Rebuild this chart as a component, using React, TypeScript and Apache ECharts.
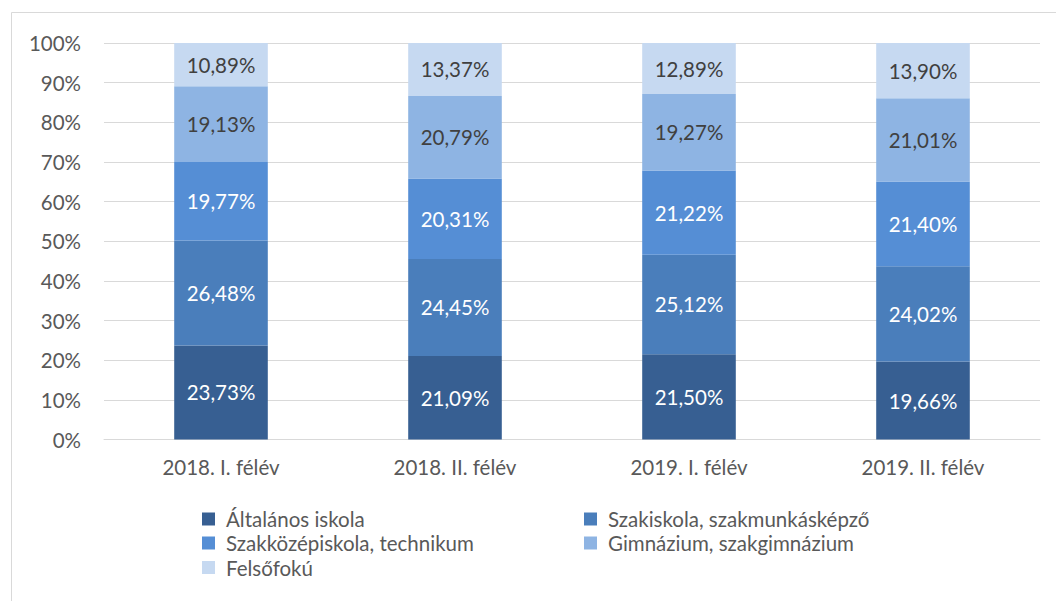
import React, { useEffect, useRef } from "react";
import * as echarts from "echarts";

const categories = ["2018. I. félév", "2018. II. félév", "2019. I. félév", "2019. II. félév"];
const seriesNames = [
  "Általános iskola",
  "Szakiskola, szakmunkásképző",
  "Szakközépiskola, technikum",
  "Gimnázium, szakgimnázium",
  "Felsőfokú",
];
const altalanos = [23.73, 21.09, 21.5, 19.66];
const szakiskola = [26.48, 24.45, 25.12, 24.02];
const szakkozep = [19.77, 20.31, 21.22, 21.4];
const gimnazium = [19.13, 20.79, 19.27, 21.01];
const felsofoku = [10.89, 13.37, 12.89, 13.9];
const yTicks = [0, 10, 20, 30, 40, 50, 60, 70, 80, 90, 100];

const seriesValues = [altalanos, szakiskola, szakkozep, gimnazium, felsofoku];
const colors = ["#375F92", "#4A7EBB", "#558ED5", "#8EB4E3", "#C6D9F1"];
const labelColors = ["#ffffff", "#ffffff", "#ffffff", "#404040", "#404040"];

const FONT = "Lato";
const FS = 20.5;

export default function App() {
  const ref = useRef<HTMLDivElement>(null);
  useEffect(() => {
    if (!ref.current) return;
    const chart = echarts.init(ref.current, null, { renderer: "svg" });
    const legendPos = [
      { left: 202, top: 518.5 },
      { left: 584, top: 518.5 },
      { left: 202, top: 542.5 },
      { left: 584, top: 542.5 },
      { left: 202, top: 567 },
    ];
    chart.setOption({
      animation: false,
      backgroundColor: "#ffffff",
      textStyle: { fontFamily: FONT },
      graphic: [
        {
          type: "rect",
          shape: { x: 11.5, y: 12.5, width: 1100, height: 700 },
          style: { fill: "none", stroke: "#d9d9d9", lineWidth: 1 },
          silent: true,
        },
      ],
      grid: { left: 104, right: 16, top: 43, bottom: 161.5 },
      legend: seriesNames.map((n, i) => ({
        data: [n],
        left: legendPos[i].left,
        top: legendPos[i].top - 10,
        padding: 0,
        itemWidth: 13,
        itemHeight: 13,
        icon: "rect",
        selectedMode: false,
        textStyle: {
          fontFamily: FONT,
          fontSize: FS,
          color: "#595959",
          padding: [0, 0, 0, 6],
          lineHeight: 20,
        },
      })),
      xAxis: {
        type: "category",
        data: categories,
        axisTick: { show: false },
        axisLine: { show: true, lineStyle: { color: "#d9d9d9", width: 1 } },
        axisLabel: { color: "#595959", fontSize: FS, fontFamily: FONT, margin: 17 },
      },
      yAxis: {
        type: "value",
        min: yTicks[0],
        max: yTicks[yTicks.length - 1],
        interval: 10,
        axisLine: { show: false },
        axisTick: { show: false },
        splitLine: { lineStyle: { color: "#d9d9d9", width: 1 } },
        axisLabel: {
          color: "#595959",
          fontSize: FS,
          fontFamily: FONT,
          margin: 23,
          formatter: (v: number) => `${v}%`,
        },
      },
      series: seriesValues.map((vals, i) => ({
        name: seriesNames[i],
        type: "bar",
        stack: "total",
        barWidth: "40%",
        data: vals,
        itemStyle: { color: colors[i] },
        label: {
          show: true,
          position: "inside",
          color: labelColors[i],
          fontSize: FS,
          fontFamily: FONT,
          formatter: (p: any) => `${p.value.toFixed(2).replace(".", ",")}%`,
        },
      })),
    });
    return () => chart.dispose();
  }, []);
  return (
    <div
      ref={ref}
      style={{ position: "fixed", left: 0, top: 0, width: 1056, height: 601 }}
    />
  );
}
